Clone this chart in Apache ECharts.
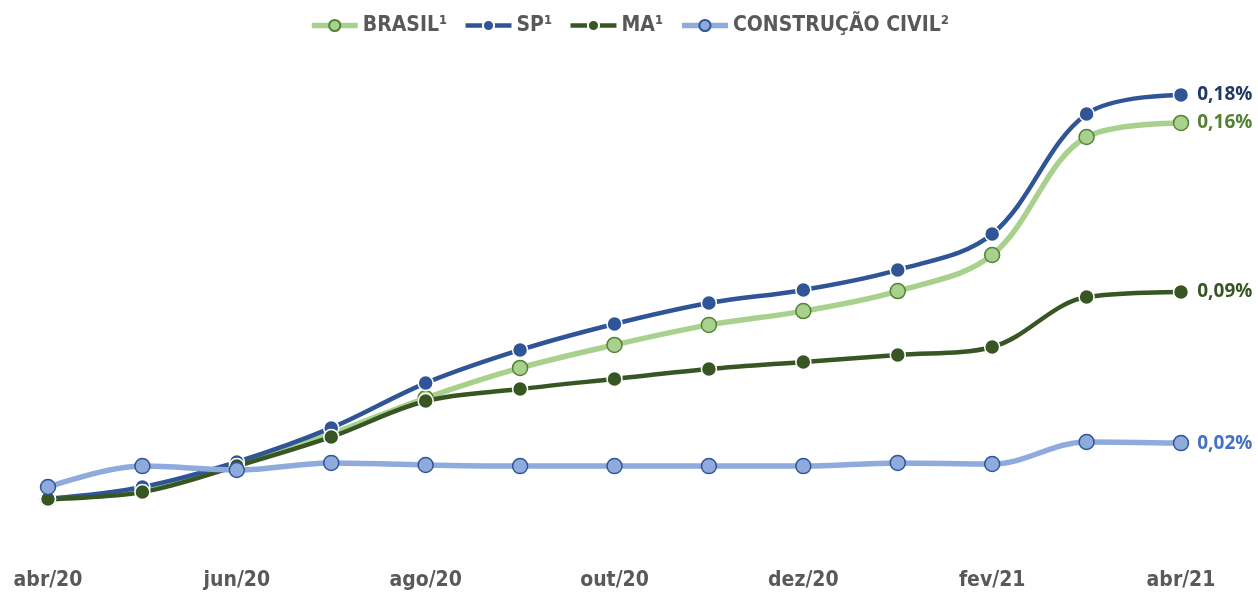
<!DOCTYPE html>
<html>
<head>
<meta charset="utf-8">
<script src="https://cdn.jsdelivr.net/npm/echarts@6/dist/echarts.min.js"></script>
<style>html,body{margin:0;padding:0;background:#fff}#c{width:1258px;height:592px}</style>
</head>
<body>
<div id="c"></div>
<script>
var categories = ['abr/20','mai/20','jun/20','jul/20','ago/20','set/20','out/20','nov/20','dez/20','jan/21','fev/21','mar/21','abr/21'];
var seriesNames = ['BRASIL¹','SP¹','MA¹','CONSTRUÇÃO CIVIL²'];
var brasil = [0.0000,0.0039,0.0148,0.0283,0.0439,0.0570,0.0670,0.0757,0.0817,0.0904,0.1061,0.1574,0.1635];
var sp     = [0.0000,0.0052,0.0161,0.0309,0.0504,0.0648,0.0761,0.0852,0.0909,0.0996,0.1152,0.1674,0.1757];
var ma     = [0.0000,0.0030,0.0143,0.0270,0.0426,0.0478,0.0522,0.0565,0.0596,0.0626,0.0661,0.0878,0.0900];
var cc     = [0.0052,0.0143,0.0126,0.0157,0.0148,0.0143,0.0143,0.0143,0.0143,0.0157,0.0152,0.0248,0.0243];

var FONT = "'DejaVu Sans Condensed','Liberation Sans Narrow',sans-serif";
function fmt(v){ return v.toFixed(2).replace('.', ',') + '%'; }

var styles = [
  {line: '#A9D18E', w: 5.5, fill: '#A9D18E', border: '#548235', label: '#548235'},
  {line: '#2F5597', w: 4.5, fill: '#2F5597', border: '#ffffff', label: '#203864'},
  {line: '#375623', w: 4.5, fill: '#375623', border: '#ffffff', label: '#375623'},
  {line: '#8FAADC', w: 5.5, fill: '#8FAADC', border: '#2F5597', label: '#4472C4'}
];

function mk(idx, data){
  var s = styles[idx];
  var last = data.length - 1;
  return {
    name: seriesNames[idx], type: 'line', data: data.map(function(v,i){
      var d = {value: v};
      if (i === last) d.label = {show: true};
      return d;
    }),
    smooth: 0.35,
    symbol: 'circle', symbolSize: 15,
    lineStyle: {color: s.line, width: s.w},
    itemStyle: {color: s.fill, borderColor: s.border, borderWidth: 1.5},
    label: {show: false, position: 'right', distance: 8, color: s.label,
            fontFamily: 'Open Sans, sans-serif', fontWeight: 'bold', fontSize: 19,
            formatter: function(p){ return fmt(p.value); }},
    emphasis: {disabled: true}
  };
}

var chart = echarts.init(document.getElementById('c'));
chart.setOption({
  animation: false,
  backgroundColor: '#fff',
  legend: {
    top: 10, left: 'center', itemGap: 16, itemWidth: 46, itemHeight: 14,
    textStyle: {fontFamily: FONT, fontSize: 21, fontWeight: 'bold', color: '#595959'},
    data: seriesNames.map(function(n, i){
      return {name: n, lineStyle: {width: styles[i].w, color: styles[i].line}};
    })
  },
  grid: {left: 48, right: 77, top: 62, bottom: 47},
  xAxis: {
    type: 'category', data: categories, boundaryGap: false,
    axisLine: {show: false}, axisTick: {show: false},
    axisLabel: {interval: 1, margin: 25, fontFamily: FONT, fontSize: 21, fontWeight: 'bold', color: '#595959'}
  },
  yAxis: {type: 'value', min: -0.02, max: 0.19, show: false, splitLine: {show: false}},
  series: [mk(0, brasil), mk(1, sp), mk(2, ma), mk(3, cc)]
});
</script>
</body>
</html>
